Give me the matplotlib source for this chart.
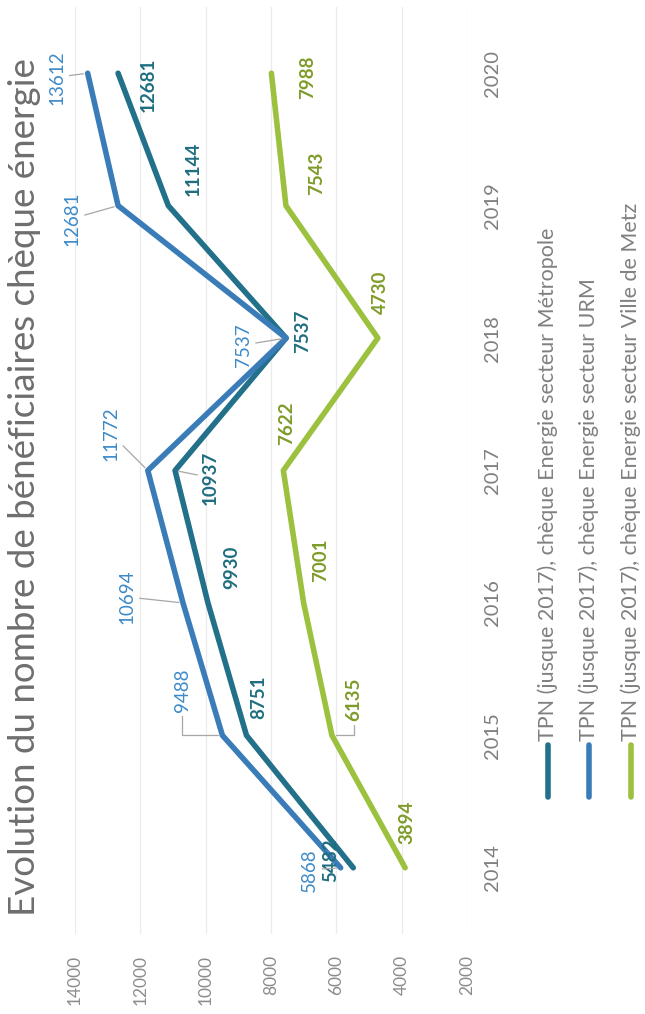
import matplotlib
matplotlib.use("Agg")
import matplotlib.pyplot as plt
from matplotlib.lines import Line2D

plt.rcParams['font.family'] = ['Lato', 'DejaVu Sans']

# ---------------- data ----------------
years = ['2014', '2015', '2016', '2017', '2018', '2019', '2020']
series_names = [
    "TPN (jusque 2017), chèque Energie secteur Métropole",
    "TPN (jusque 2017), chèque Energie secteur URM",
    "TPN (jusque 2017), chèque Energie secteur Ville de Metz",
]
metropole = [5482, 8751, 9930, 10937, 7537, 11144, 12681]
urm = [5868, 9488, 10694, 11772, 7537, 12681, 13612]
metz = [3894, 6135, 7001, 7622, 4730, 7543, 7988]
value_ticks = [2000, 4000, 6000, 8000, 10000, 12000, 14000]
title = "Evolution du nombre de bénéficiaires chèque énergie"

# ---------------- style ----------------
W, H = 645, 1014
line_colors = ['#22708a', '#3a7cb8', '#9cc13e']
label_colors = ['#1f6e80', '#3d8ac8', '#7f9c2a']
label_weights = ['bold', 'normal', 'bold']
leader_color = '#a6a6a6'

# label offsets in pixels (dx right, dy up) and leader flags, per series per year
offsets = [
    [(-23, 8), (12, 38), (24, 36), (35, -7), (17, 7), (25, 37), (30, -12)],
    [(-31, -2), (-40, 45), (-56, 6), (-37, 37), (-43, -7), (-46, -13), (-31, -4)],
    [(2, 45), (22, 36), (17, 43), (3, 47), (3, 46), (31, 32), (36, -4)],
]
leaders = [
    [None, None, None, 'straight', None, None, None],
    ['straight', 'bracket', 'straight', 'straight', 'straight', 'straight', 'straight'],
    [None, 'bracket', None, None, None, None, None],
]

fig = plt.figure(figsize=(W / 100, H / 100), dpi=100)
fig.patch.set_facecolor('white')

ax_left, ax_right = 75, 467
ax_top, ax_bottom = 7, 934
ax = fig.add_axes([ax_left / W, 1 - ax_bottom / H,
                   (ax_right - ax_left) / W, (ax_bottom - ax_top) / H])
ax.set_facecolor('none')

idx = list(range(len(years)))
all_series = [metropole, urm, metz]
for vals, col in zip(all_series, line_colors):
    ax.plot(vals, idx, color=col, lw=4.0, solid_capstyle='round',
            solid_joinstyle='round', zorder=3)

ax.set_xlim(14000, 2000)
ax.set_ylim(-0.5, len(years) - 0.5)

ax.set_xticks(value_ticks)
ax.set_xticklabels([str(v) for v in value_ticks], rotation=90,
                   fontsize=12.5, color='#8c8c8c')
ax.tick_params(axis='x', length=0, pad=15)

ax.yaxis.tick_right()
ax.set_yticks(idx)
ax.set_yticklabels(years, rotation=90, fontsize=14.5, color='#7f7f7f', va='center')
ax.tick_params(axis='y', length=0, pad=12)

ax.grid(axis='x', color='#ebebeb', lw=0.9, zorder=0)
ax.grid(axis='y', visible=False)
for s in ax.spines.values():
    s.set_visible(False)

# data labels
for si, vals in enumerate(all_series):
    for yi, v in enumerate(vals):
        dx, dy = offsets[si][yi]
        lk = leaders[si][yi]
        arrow = None
        if lk == 'straight':
            arrow = dict(arrowstyle='-', color=leader_color, lw=0.9,
                         shrinkA=1, shrinkB=3)
        elif lk == 'bracket':
            arrow = dict(arrowstyle='-', color=leader_color, lw=0.9,
                         shrinkA=1, shrinkB=3,
                         connectionstyle='angle,angleA=90,angleB=0,rad=0')
        ax.annotate(str(v), xy=(v, yi), xytext=(dx, dy),
                    textcoords='offset pixels', rotation=90,
                    ha='center', va='center', fontsize=13.5,
                    fontweight=label_weights[si], color=label_colors[si],
                    arrowprops=arrow, zorder=5, annotation_clip=False)

# title
fig.text(25 / W, 1 - 916 / H, title, rotation=90, ha='center', va='bottom',
         fontsize=26.5, color='#6e6e6e', fontweight='normal')

# legend (rotated, drawn manually)
leg_x = [548, 589, 631]
for name, col, lx in zip(series_names, line_colors, leg_x):
    fig.add_artist(Line2D([lx / W, lx / W], [1 - 797 / H, 1 - 745 / H],
                          transform=fig.transFigure, color=col, lw=4.0,
                          solid_capstyle='round'))
    fig.text(lx / W, 1 - 741 / H, name, rotation=90, ha='center', va='bottom',
             fontsize=15.5, color='#808080')

fig.savefig('out.png', dpi=100, facecolor='white')
